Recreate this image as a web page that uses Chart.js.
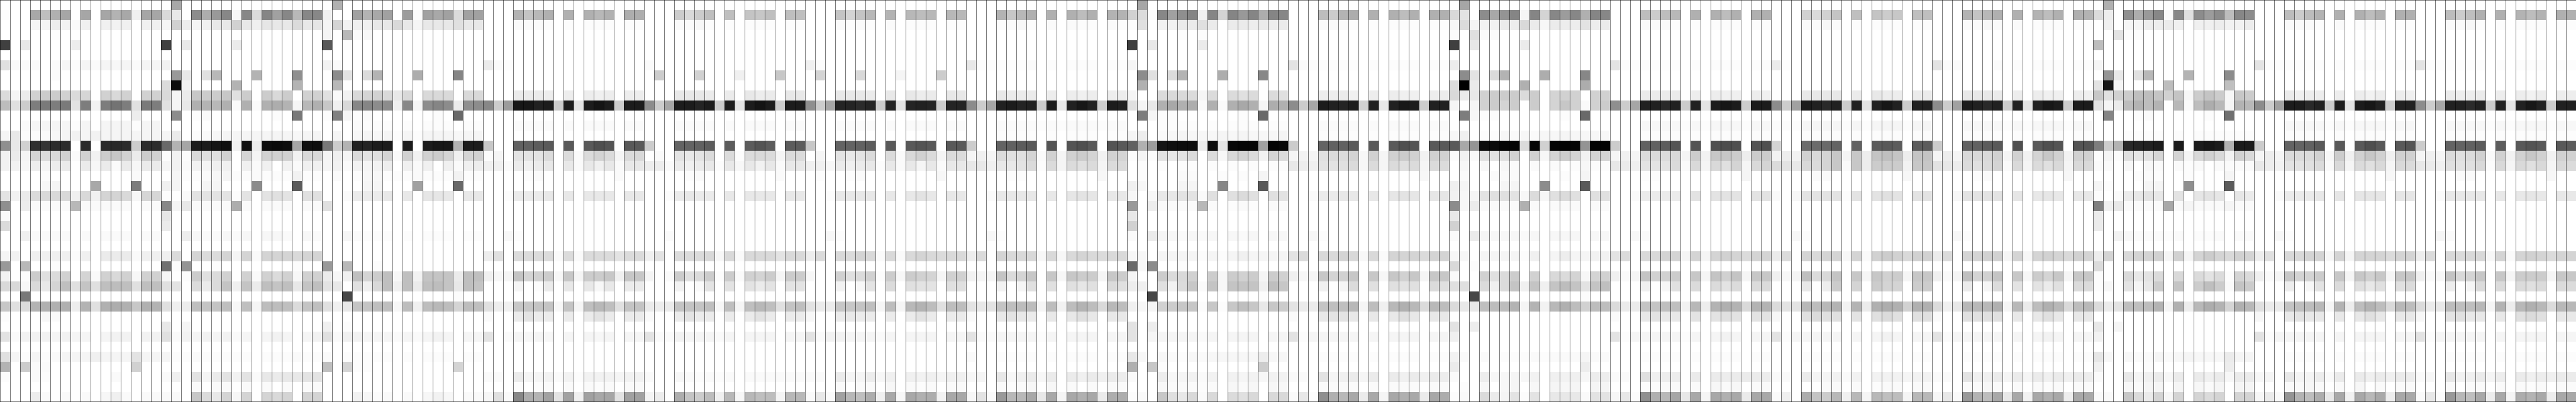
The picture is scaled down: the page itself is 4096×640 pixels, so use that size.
<!DOCTYPE html>
<html lang="en">
<head>
<meta charset="UTF-8">
<title>Grey heatmap</title>
<style>
    html, body { margin: 0; padding: 0; background: #fff; overflow: hidden; }
    canvas { display: block; }
</style>
</head>
<body>
<canvas id="chart" width="4096" height="640"></canvas>
<script src="https://cdn.jsdelivr.net/npm/chart.js"></script>
<script>
// darkness of each cell in percent (0 white, 100 black), one array per row from the top
// groups: first 3 columns, then blocks of 16 columns
const row00 = [0,0,0, 0,0,0,0,0,0,0,0,0,0,0,0,0,0,34,0, 0,0,0,0,0,0,0,0,0,0,0,0,0,0,31,0, 0,0,0,0,0,0,0,0,0,0,0,0,0,0,0,0, 0,0,0,0,0,0,0,0,0,0,0,0,0,0,0,0, 0,0,0,0,0,0,0,0,0,0,0,0,0,0,0,0, 0,0,0,0,0,0,0,0,0,0,0,0,0,0,0,0, 0,0,0,0,0,0,0,0,0,0,0,0,0,0,35,0, 0,0,0,0,0,0,0,0,0,0,0,0,0,0,0,0, 0,0,0,0,0,0,0,0,0,0,0,0,0,0,35,0, 0,0,0,0,0,0,0,0,0,0,0,0,0,0,0,0, 0,0,0,0,0,0,0,0,0,0,0,0,0,0,0,0, 0,0,0,0,0,0,0,0,0,0,0,0,0,0,0,0, 0,0,0,0,0,0,0,0,0,0,0,0,0,0,31,0, 0,0,0,0,0,0,0,0,0,0,0,0,0,0,0,0, 0,0,0,0,0,0,0,0,0,0,0,0,0,0,0,0, 0,0,0,0,0,0,0,0,0,0,0,0,0];
const row01 = [1,0,0, 34,25,31,35,0,35,0,35,30,34,6,35,35,15,9,0, 45,32,40,47,3,47,14,48,37,47,28,47,47,6,0,0, 37,30,34,37,0,39,1,37,34,37,14,37,37,0,0,0, 30,23,28,31,0,31,0,31,28,31,1,32,32,0,0,0, 20,15,20,25,0,25,0,23,22,25,0,25,25,0,0,0, 23,17,23,28,0,30,0,28,26,28,0,28,28,0,0,0, 30,22,28,31,0,31,0,31,26,31,0,30,30,18,14,1, 47,37,44,48,6,48,17,48,40,48,32,48,47,0,0,0, 26,20,30,32,0,31,0,31,26,31,0,31,31,15,11,0, 45,34,42,48,4,48,17,47,39,47,31,48,47,0,0,0, 26,20,26,28,0,31,0,31,26,31,0,31,31,0,0,0, 18,14,18,23,0,25,0,23,20,22,0,25,25,0,0,0, 30,23,28,31,0,31,0,30,26,31,0,31,30,14,7,0, 44,32,40,47,2,47,12,45,39,45,26,47,45,0,0,0, 26,20,26,30,0,31,0,31,26,31,0,31,31,0,0,0, 26,20,25,31,0,31,0,30,26,30,0,31,31];
const row02 = [0,0,0, 4,4,7,5,2,6,0,6,5,6,0,6,6,4,18,7, 4,6,9,9,18,9,6,10,9,9,14,9,10,4,17,5, 6,6,9,9,15,9,4,9,9,9,12,9,9,0,0,0, 2,2,2,1,0,1,0,1,1,1,0,1,1,0,0,0, 2,2,3,1,0,1,0,1,1,1,0,1,1,0,0,0, 2,1,2,1,0,2,0,1,1,1,0,1,1,0,0,0, 1,2,3,1,0,2,0,2,1,1,0,2,1,1,12,0, 5,5,8,8,12,8,0,8,8,7,8,7,8,0,0,0, 2,2,2,1,0,1,0,1,1,1,0,1,1,3,14,4, 5,5,8,7,15,8,3,8,7,7,11,7,8,0,0,0, 2,2,2,1,0,1,0,1,1,1,0,1,1,0,0,0, 2,2,3,2,0,1,0,1,1,1,0,1,1,0,0,0, 2,2,3,2,0,2,0,1,1,1,0,1,1,0,6,0, 4,4,7,7,8,6,0,6,6,7,5,5,7,0,0,0, 2,2,2,1,0,2,0,1,1,1,0,1,1,0,0,0, 2,2,3,1,0,1,0,1,1,1,0,1,1];
const row03 = [0,0,0, 0,0,1,0,0,0,0,0,0,0,0,0,0,0,0,0, 0,0,0,0,0,0,0,0,0,0,0,0,0,4,0,28, 2,3,0,0,0,0,0,0,0,0,0,0,0,0,0,0, 0,0,0,0,0,0,0,0,0,0,0,0,0,0,0,0, 0,0,0,0,0,0,0,0,0,0,0,0,0,0,0,0, 0,0,0,0,0,0,0,0,0,0,0,0,0,0,0,0, 0,0,0,0,0,0,0,0,0,0,0,0,0,0,0,0, 0,0,1,0,1,0,0,0,0,0,0,0,0,0,0,0, 0,0,0,0,0,0,0,0,0,0,0,0,0,1,0,12, 2,2,0,0,0,0,0,0,0,0,0,0,0,0,0,0, 0,0,0,0,0,0,0,0,0,0,0,0,0,0,0,0, 0,0,0,0,0,0,0,0,0,0,0,0,0,0,0,0, 0,0,0,0,0,0,0,0,0,0,0,0,0,0,0,11, 1,1,0,0,0,0,0,0,0,0,0,0,0,0,0,0, 0,0,0,0,0,0,0,0,0,0,0,0,0,0,0,0, 0,0,0,0,0,0,0,0,0,0,0,0,0];
const row04 = [75,0,9, 0,0,0,0,7,0,0,0,0,0,0,0,0,75,0,9, 0,0,0,0,8,0,0,0,0,0,0,0,0,65,0,1, 0,0,0,0,0,0,0,0,0,0,0,0,0,0,0,0, 0,0,0,0,0,0,0,0,0,0,0,0,0,0,0,0, 0,0,0,0,0,0,0,0,0,0,0,0,0,0,0,0, 0,0,0,0,0,0,0,0,0,0,0,0,0,0,0,0, 0,0,0,0,0,0,0,0,0,0,0,0,0,75,0,9, 0,0,0,0,8,0,0,0,0,0,0,0,0,0,0,0, 0,0,0,0,0,0,0,0,0,0,0,0,0,75,0,9, 0,0,0,0,8,0,0,0,0,0,0,0,0,0,0,0, 0,0,0,0,0,0,0,0,0,0,0,0,0,0,0,0, 0,0,0,0,0,0,0,0,0,0,0,0,0,0,0,0, 0,0,0,0,0,0,0,0,0,0,0,0,0,26,0,0, 0,0,0,0,0,0,0,0,0,0,0,0,0,0,0,0, 0,0,0,0,0,0,0,0,0,0,0,0,0,0,0,0, 0,0,0,0,0,0,0,0,0,0,0,0,0];
const row05 = [0,0,0, 0,0,0,0,0,0,0,0,0,0,0,0,0,0,0,0, 0,0,0,0,0,0,0,0,0,0,0,0,0,0,0,0, 0,0,0,0,0,0,0,0,0,0,0,0,0,0,0,0, 0,0,0,0,0,0,0,0,0,0,0,0,0,0,0,0, 0,0,0,0,0,0,0,0,0,0,0,0,0,0,0,0, 0,0,0,0,0,0,0,0,0,0,0,0,0,0,0,0, 0,0,0,0,0,0,0,0,0,0,0,0,0,0,0,0, 0,0,0,0,0,0,0,0,0,0,0,0,0,0,0,0, 0,0,0,0,0,0,0,0,0,0,0,0,0,0,0,0, 0,0,0,0,0,0,0,0,0,0,0,0,0,0,0,0, 0,0,0,0,0,0,0,0,0,0,0,0,0,0,0,0, 0,0,0,0,0,0,0,0,0,0,0,0,0,0,0,0, 0,0,0,0,0,0,0,0,0,0,0,0,0,0,0,0, 0,0,0,0,0,0,0,0,0,0,0,0,0,0,0,0, 0,0,0,0,0,0,0,0,0,0,0,0,0,0,0,0, 0,0,0,0,0,0,0,0,0,0,0,0,0];
const row06 = [12,2,2, 2,0,2,4,1,4,2,4,3,4,2,4,4,5,0,0, 0,0,0,0,0,0,0,0,0,0,0,0,0,5,2,0, 0,0,0,0,0,0,0,0,0,0,0,0,0,8,2,1, 0,0,0,0,0,0,0,0,0,0,0,0,0,2,0,0, 0,0,0,0,0,0,0,0,0,0,0,0,0,6,1,0, 0,0,0,0,0,0,0,0,0,0,0,0,0,9,1,1, 1,1,1,2,0,1,0,1,1,1,0,1,1,4,0,0, 0,0,0,0,0,0,0,0,0,0,0,0,0,11,2,1, 1,1,1,1,0,1,0,1,1,1,0,1,1,7,0,0, 0,0,0,0,0,0,0,0,0,0,0,0,0,11,1,1, 1,1,1,1,0,1,0,1,1,1,0,1,1,8,1,0, 0,0,0,0,0,0,0,0,0,0,0,0,0,11,2,2, 0,0,0,2,0,1,0,1,1,1,0,1,1,4,0,0, 0,0,0,0,0,0,0,0,0,0,0,0,0,11,1,1, 1,1,1,1,0,1,0,1,1,1,0,1,1,11,1,1, 1,1,1,1,0,1,0,1,1,1,0,1,1];
const row07 = [0,0,0, 0,0,2,0,0,0,0,0,0,0,0,0,0,0,40,9, 0,12,28,0,0,0,30,0,0,0,44,0,0,0,45,11, 0,14,30,0,0,0,32,0,0,0,48,0,0,0,0,0, 0,0,0,0,0,0,0,0,0,0,0,0,0,0,20,0, 0,0,18,0,0,0,6,0,0,0,22,0,0,0,17,0, 0,0,15,0,0,0,4,0,0,0,20,0,0,0,0,0, 0,0,0,0,0,0,0,0,0,0,0,0,0,0,45,12, 0,14,30,0,0,0,32,0,0,0,47,0,0,0,0,0, 0,0,0,0,0,0,0,0,0,0,0,0,0,0,45,11, 0,14,30,0,0,0,32,0,0,0,47,0,0,0,0,0, 0,0,0,0,0,0,0,0,0,0,0,0,0,0,0,0, 0,0,0,0,0,0,0,0,0,0,0,0,0,0,0,0, 0,0,0,0,0,0,0,0,0,0,0,0,0,0,42,9, 0,12,28,0,0,0,30,0,0,0,45,0,0,0,0,0, 0,0,0,0,0,0,0,0,0,0,0,0,0,0,0,0, 0,0,0,0,0,0,0,0,0,0,0,0,0];
const row08 = [0,0,0, 0,0,0,0,0,0,0,0,0,0,0,0,0,14,95,6, 0,0,0,0,30,0,0,0,0,0,30,0,0,0,28,0, 0,0,0,0,0,0,0,0,0,0,0,0,0,0,0,0, 0,0,0,0,0,0,0,0,0,0,0,0,0,0,0,0, 0,0,0,0,0,0,0,0,0,0,0,0,0,0,0,0, 0,0,0,0,0,0,0,0,0,0,0,0,0,0,0,0, 0,0,0,0,0,0,0,0,0,0,0,0,0,0,31,0, 0,0,0,0,0,0,0,0,0,0,0,0,0,0,0,0, 0,0,0,0,0,0,0,0,0,0,0,0,0,14,100,8, 0,0,0,0,31,0,0,0,0,0,32,0,0,0,0,0, 0,0,0,0,0,0,0,0,0,0,0,0,0,0,0,0, 0,0,0,0,0,0,0,0,0,0,0,0,0,0,0,0, 0,0,0,0,0,0,0,0,0,0,0,0,0,11,91,4, 0,0,0,0,26,0,0,0,0,0,25,0,0,0,0,0, 0,0,0,0,0,0,0,0,0,0,0,0,0,0,0,0, 0,0,0,0,0,0,0,0,0,0,0,0,0];
const row09 = [14,4,8, 18,20,20,18,14,16,0,18,15,18,0,18,18,15,4,8, 22,20,20,22,12,20,0,20,15,20,0,18,18,12,2,5, 15,17,18,15,9,15,0,15,15,15,0,15,15,0,0,0, 8,8,8,7,0,7,0,7,6,7,0,7,7,0,0,0, 9,9,9,8,0,8,0,9,7,8,0,9,9,0,0,0, 9,9,9,8,0,9,0,9,7,8,0,9,9,0,0,0, 9,8,8,8,0,7,0,7,6,7,0,7,7,4,0,0, 14,15,15,14,4,14,0,14,12,14,0,14,12,0,0,0, 7,7,8,6,0,7,0,7,6,6,0,7,7,15,8,9, 18,20,20,20,14,20,0,17,18,18,0,18,18,0,0,0, 8,8,8,8,0,7,0,7,6,6,0,7,6,0,0,0, 9,9,9,9,0,8,0,9,7,7,0,8,8,0,0,0, 9,9,9,8,0,7,0,7,6,6,0,7,6,22,12,18, 20,25,26,23,18,23,3,20,23,20,3,22,20,0,0,0, 8,6,7,7,0,7,0,7,5,7,0,7,6,0,0,0, 8,7,7,8,0,7,0,7,5,7,0,7,7];
const row10 = [26,12,20, 51,52,51,52,11,51,5,51,55,51,12,52,51,12,4,9, 31,30,28,31,2,31,2,31,32,30,4,28,31,22,6,15, 47,48,45,45,6,47,4,45,48,45,8,44,45,47,20,39, 91,91,87,89,20,89,11,89,92,89,20,89,89,45,20,35, 89,89,86,89,20,89,11,89,92,89,20,89,89,44,20,35, 86,86,83,86,20,86,11,86,87,86,20,86,86,45,20,35, 87,89,86,87,20,89,9,87,91,87,20,89,87,12,4,9, 31,34,31,32,2,31,2,31,34,31,4,32,31,45,20,35, 89,87,86,89,18,87,9,87,91,89,20,87,87,4,0,4, 18,20,17,20,0,20,0,17,22,18,2,18,20,44,20,35, 87,87,84,87,20,87,11,89,91,89,20,89,89,45,20,37, 89,87,84,87,20,87,11,87,91,87,20,87,87,45,20,37, 89,87,84,87,20,87,11,87,91,89,20,89,89,11,4,8, 26,30,26,30,0,28,2,26,32,28,4,30,28,45,20,37, 89,89,84,87,20,89,11,89,91,87,20,87,87,45,20,35, 87,87,83,87,20,87,11,87,91,87,20,87,87];
const row11 = [0,0,0, 0,0,0,0,0,0,0,0,0,0,7,0,0,0,45,0, 1,2,0,0,0,0,0,0,1,0,53,0,0,1,50,4, 1,2,0,0,0,0,0,0,1,0,59,0,0,0,0,0, 0,0,0,0,0,0,0,0,0,0,0,0,0,0,0,0, 0,0,0,0,0,0,0,0,0,0,0,0,0,0,0,0, 0,0,0,0,0,0,0,0,0,0,0,0,0,0,0,0, 0,0,0,0,0,0,0,0,0,0,0,0,0,0,51,4, 1,1,0,0,0,0,0,0,1,0,59,0,0,0,0,0, 0,0,0,0,0,0,0,0,0,0,0,0,0,0,51,3, 1,1,0,0,0,0,0,0,1,0,59,0,0,0,0,0, 0,0,0,0,0,0,0,0,0,0,0,0,0,0,0,0, 0,0,0,0,0,0,0,0,0,0,0,0,0,0,0,0, 0,0,0,0,0,0,0,0,0,0,0,0,0,0,48,0, 0,1,2,0,0,0,0,0,1,0,56,0,0,0,0,0, 0,0,0,0,0,0,0,0,0,0,0,0,0,0,0,0, 0,0,0,0,0,0,0,0,0,0,0,0,0];
const row12 = [0,0,2, 4,4,4,4,1,4,0,4,4,4,1,4,4,0,0,0, 0,0,0,0,0,0,0,0,0,0,0,0,0,0,0,0, 2,1,1,1,0,1,0,1,1,1,0,1,1,0,0,0, 2,2,2,2,0,2,0,2,2,2,0,2,2,0,0,0, 2,2,2,2,0,2,0,2,2,2,0,2,2,0,0,0, 2,2,2,2,0,2,0,2,2,2,0,2,2,0,0,0, 2,2,2,2,1,2,1,2,2,2,1,2,2,0,0,0, 1,1,1,1,0,1,0,1,1,1,0,1,1,0,0,0, 2,2,2,2,0,2,0,2,2,2,0,2,2,0,0,0, 0,0,0,0,0,0,0,0,0,0,0,0,0,0,0,0, 3,3,3,3,1,3,1,3,3,3,1,3,3,1,1,1, 4,4,4,4,1,4,1,4,4,4,1,4,4,0,0,0, 3,3,3,3,1,3,1,3,3,3,1,3,3,0,0,0, 0,0,0,0,0,0,0,0,0,0,0,0,0,0,0,0, 3,3,3,3,1,3,1,3,3,3,1,3,3,0,0,0, 3,3,3,3,1,3,1,3,3,3,1,3,3];
const row13 = [4,9,1, 1,2,3,4,5,4,5,4,4,4,4,4,4,4,8,0, 1,2,3,4,4,4,4,4,4,4,3,4,4,0,4,0, 3,4,3,4,1,4,1,4,4,4,3,4,4,0,0,0, 0,0,0,0,0,0,0,0,0,0,0,0,0,0,0,0, 0,0,0,0,0,0,0,0,0,0,0,0,0,0,0,0, 0,0,0,0,0,0,0,0,0,0,0,0,0,0,0,0, 1,1,1,1,0,1,0,1,1,1,0,1,1,4,7,0, 2,3,4,3,3,3,4,3,4,3,3,3,4,0,0,0, 1,1,1,1,0,1,0,1,1,1,0,1,1,3,6,0, 1,1,3,2,3,2,3,3,4,3,3,3,3,0,0,0, 1,1,1,1,0,1,0,1,1,1,0,1,1,0,0,0, 1,1,1,1,0,1,0,1,1,1,0,1,1,0,0,0, 1,1,1,1,0,1,0,1,1,1,0,1,1,0,0,0, 1,1,1,1,0,1,0,1,1,1,1,1,1,0,0,0, 1,1,1,1,0,1,0,1,1,1,0,1,1,0,0,0, 1,1,1,1,0,1,0,1,1,1,0,1,1];
const row14 = [44,9,18, 81,80,83,83,0,83,0,83,84,83,20,83,83,59,30,35, 89,89,92,94,6,94,8,95,96,95,35,94,95,53,20,30, 87,86,89,89,0,89,0,89,91,91,30,89,89,22,0,0, 62,62,64,65,0,65,0,65,69,67,0,65,65,20,0,0, 61,61,62,64,0,64,0,64,67,64,0,64,64,22,0,0, 61,61,62,64,0,65,0,65,67,65,0,65,65,20,0,0, 61,62,64,65,0,67,0,67,69,65,0,67,65,62,31,39, 92,94,95,95,8,96,11,97,98,98,37,98,97,20,0,0, 61,62,62,65,0,65,0,65,69,67,0,65,65,65,34,42, 95,96,98,98,14,98,18,98,99,98,42,99,99,20,0,0, 62,62,64,67,0,67,0,69,70,69,0,67,69,17,0,0, 58,58,59,61,0,62,0,64,65,64,0,64,64,20,0,0, 62,62,64,65,0,69,0,65,69,67,0,67,67,51,20,30, 84,86,87,89,0,89,0,89,91,89,30,89,89,20,0,0, 61,61,62,65,0,65,0,65,69,65,0,65,67,20,0,0, 61,61,62,64,0,64,0,65,67,65,0,65,64];
const row15 = [5,8,4, 17,14,15,18,2,18,5,20,22,18,8,20,18,1,5,1, 15,12,12,18,0,17,4,18,18,18,5,15,15,4,6,4, 14,11,12,17,2,18,5,18,20,17,6,17,18,1,4,0, 11,11,11,14,0,14,2,14,17,14,4,14,15,0,2,0, 11,9,11,14,0,14,1,14,15,14,4,14,14,0,4,0, 11,9,11,14,0,14,2,15,18,14,4,14,14,4,6,4, 14,12,12,17,2,18,4,18,20,17,5,18,17,1,4,1, 11,9,11,14,0,14,3,15,17,14,5,17,14,4,5,4, 12,14,14,17,3,18,4,18,20,18,5,18,18,1,5,2, 12,11,12,18,0,18,3,17,20,17,5,17,17,4,6,4, 14,14,14,15,4,20,5,22,22,20,7,20,20,5,7,5, 18,15,17,22,4,22,7,23,25,23,7,23,23,4,7,4, 15,15,15,18,4,18,5,17,22,18,5,18,18,1,4,1, 12,10,11,16,0,17,4,15,18,15,5,18,15,4,7,4, 14,14,14,18,3,20,6,18,22,18,6,18,18,4,6,4, 14,12,14,18,2,18,5,18,22,18,5,18,18];
const row16 = [5,5,3, 7,4,7,8,0,8,3,8,2,8,3,8,8,4,5,2, 5,4,6,6,0,6,2,6,0,5,2,6,6,4,5,2, 5,4,5,7,0,6,2,6,0,6,2,6,7,6,6,2, 8,6,8,9,0,9,2,9,6,9,2,9,9,7,7,2, 8,6,8,9,1,9,3,9,5,9,2,9,9,6,6,3, 8,6,8,9,1,9,2,9,4,9,2,9,9,9,9,6, 9,9,11,14,1,14,4,14,12,14,4,14,14,0,1,0, 1,0,1,1,0,1,0,1,0,1,0,1,1,9,7,6, 11,11,12,14,3,14,4,14,12,14,4,14,14,0,3,0, 3,0,3,2,0,2,0,2,0,1,3,1,1,9,8,6, 11,11,11,14,2,15,4,15,12,17,4,15,17,14,11,9, 15,14,17,22,2,22,7,20,20,20,5,22,22,11,9,7, 14,12,14,17,2,15,4,14,12,15,4,15,15,2,2,0, 3,0,3,2,0,2,1,2,0,2,2,2,2,9,7,5, 11,11,12,14,2,15,4,14,12,15,4,15,14,9,8,6, 12,11,12,15,1,15,4,15,12,15,4,15,14];
const row17 = [0,0,0, 0,1,0,0,0,0,0,0,0,0,2,0,0,0,4,1, 1,2,3,4,1,1,2,1,1,1,5,1,1,0,2,0, 1,3,3,1,1,1,2,1,1,1,5,1,1,0,0,0, 0,1,2,0,0,0,0,0,0,0,2,0,0,0,0,0, 0,1,2,0,0,0,0,0,0,0,2,0,0,0,1,0, 0,1,2,0,0,0,0,0,0,0,3,0,0,0,0,0, 0,1,1,0,0,0,0,0,0,0,3,0,0,0,1,0, 0,0,2,2,0,0,1,0,1,0,4,0,0,0,0,0, 0,0,0,0,0,0,0,0,0,0,3,0,0,0,2,0, 0,2,2,2,0,0,0,0,1,0,4,0,0,0,0,0, 1,1,0,0,0,0,0,0,0,0,4,0,0,0,0,0, 0,2,2,0,0,0,0,0,0,0,3,0,0,0,0,0, 0,1,2,0,0,0,0,0,0,0,3,0,0,0,0,0, 0,1,2,1,0,0,1,0,0,0,4,0,0,0,0,0, 0,0,0,0,0,0,0,0,0,0,3,0,0,0,0,0, 0,2,2,0,0,0,0,0,0,0,3,0,0];
const row18 = [0,0,0, 0,3,4,0,0,0,34,0,0,0,51,0,0,6,4,0, 0,4,4,0,0,0,45,0,0,0,64,0,0,0,0,0, 0,4,4,0,0,0,37,0,0,0,59,0,0,0,0,0, 0,0,0,0,0,0,0,0,0,0,0,0,0,0,0,0, 0,0,0,0,0,0,0,0,0,0,0,0,0,0,0,0, 0,0,0,0,0,0,0,0,0,0,0,0,0,0,0,0, 0,0,0,0,0,0,0,0,0,0,0,0,0,6,3,0, 0,0,4,4,0,0,47,0,0,0,65,0,0,0,0,0, 0,0,0,0,0,0,0,0,0,0,0,0,0,6,4,0, 0,0,4,4,0,0,45,0,0,0,65,0,0,0,0,0, 0,0,0,0,0,0,0,0,0,0,0,0,0,0,0,0, 0,0,0,0,0,0,0,0,0,0,0,0,0,0,0,0, 0,0,0,0,0,0,0,0,0,0,0,0,0,4,1,0, 0,0,4,4,0,0,44,0,0,0,64,0,0,0,0,0, 0,0,0,0,0,0,0,0,0,0,0,0,0,0,0,0, 0,0,0,0,0,0,0,0,0,0,0,0,0];
const row19 = [11,5,8, 14,15,15,15,6,15,6,17,17,15,3,16,16,1,0,2, 11,11,11,11,1,11,0,11,12,11,0,12,12,0,0,2, 8,8,8,9,0,9,0,10,10,9,0,9,9,0,0,1, 8,8,8,9,0,9,0,9,9,9,0,9,9,0,0,1, 8,9,8,8,0,9,0,9,9,9,0,9,9,0,0,1, 9,9,9,9,0,9,0,9,11,9,0,9,9,0,0,2, 9,9,9,9,0,9,0,10,11,10,0,9,9,3,0,3, 9,9,11,11,2,12,0,12,14,12,0,12,11,0,0,2, 8,8,9,9,0,9,0,10,11,10,0,10,10,5,3,4, 11,12,12,11,3,14,3,12,14,12,0,12,12,0,0,2, 8,8,8,8,0,11,0,11,11,11,0,11,11,2,0,3, 11,11,11,11,1,11,0,11,12,11,0,11,11,0,0,3, 11,11,11,11,0,10,0,9,10,9,0,9,9,1,0,2, 8,9,11,9,0,11,0,10,11,10,0,10,8,0,0,2, 8,8,8,9,0,10,0,10,10,10,0,10,10,0,0,2, 9,9,9,9,0,9,0,9,10,9,0,9,9];
const row20 = [44,0,7, 2,2,2,2,28,2,2,2,2,2,0,2,2,47,4,9, 2,2,2,2,32,2,0,2,2,2,0,2,2,12,0,0, 0,0,0,0,0,0,0,0,0,0,0,0,0,0,0,0, 0,0,0,0,0,0,0,0,0,0,0,0,0,0,0,0, 0,0,0,0,0,0,0,0,0,0,0,0,0,0,0,0, 0,0,0,0,0,0,0,0,0,0,0,0,0,0,0,0, 0,0,0,0,0,0,0,0,0,0,0,0,0,40,0,7, 2,2,2,2,28,2,0,1,2,1,0,2,2,0,0,0, 0,0,0,0,0,0,0,0,0,0,0,0,0,45,3,8, 2,2,2,2,31,2,0,2,2,2,0,2,2,0,0,0, 0,0,0,0,0,0,0,0,0,0,0,0,0,0,0,0, 0,0,0,0,0,0,0,0,0,0,0,0,0,0,0,0, 0,0,0,0,0,0,0,0,0,0,0,0,0,50,6,9, 2,2,2,2,34,2,4,2,2,2,4,2,2,0,0,0, 0,0,0,0,0,0,0,0,0,0,0,0,0,0,0,0, 0,0,0,0,0,0,0,0,0,0,0,0,0];
const row21 = [2,0,0, 0,0,0,0,0,0,0,0,0,0,0,0,0,10,0,0, 0,0,0,0,0,0,0,0,0,0,0,0,0,0,0,0, 0,0,0,0,0,0,0,0,0,0,0,0,0,0,0,0, 0,0,0,0,0,0,0,0,0,0,0,0,0,0,0,0, 0,0,0,0,0,0,0,0,0,0,0,0,0,0,0,0, 0,0,0,0,0,0,0,0,0,0,0,0,0,0,0,0, 0,0,0,0,0,0,0,0,0,0,0,0,0,9,0,0, 0,0,0,0,0,0,0,0,0,0,0,0,0,0,0,0, 0,0,0,0,0,0,0,0,0,0,0,0,0,9,0,0, 0,0,0,0,0,0,0,0,0,0,0,0,0,0,0,0, 0,0,0,0,0,0,0,0,0,0,0,0,0,0,0,0, 0,0,0,0,0,0,0,0,0,0,0,0,0,0,0,0, 0,0,0,0,0,0,0,0,0,0,0,0,0,8,0,0, 0,0,0,0,0,0,0,0,0,0,0,0,0,0,0,0, 0,0,0,0,0,0,0,0,0,0,0,0,0,0,0,0, 0,0,0,0,0,0,0,0,0,0,0,0,0];
const row22 = [14,0,0, 0,0,0,0,0,0,0,0,0,0,0,0,0,8,0,0, 0,0,0,0,0,0,0,0,0,0,0,0,0,0,0,0, 0,0,0,0,0,0,0,0,0,0,0,0,0,0,0,0, 0,0,0,0,0,0,0,0,0,0,0,0,0,0,0,0, 0,0,0,0,0,0,0,0,0,0,0,0,0,0,0,0, 0,0,0,0,0,0,0,0,0,0,0,0,0,0,0,0, 0,0,0,0,0,0,0,0,0,0,0,0,0,18,0,0, 0,0,0,0,0,0,0,0,0,0,0,0,0,0,0,0, 0,0,0,0,0,0,0,0,0,0,0,0,0,18,0,0, 0,0,0,0,0,0,0,0,0,0,0,0,0,0,0,0, 0,0,0,0,0,0,0,0,0,0,0,0,0,0,0,0, 0,0,0,0,0,0,0,0,0,0,0,0,0,0,0,0, 0,0,0,0,0,0,0,0,0,0,0,0,0,8,0,0, 0,0,0,0,0,0,0,0,0,0,0,0,0,0,0,0, 0,0,0,0,0,0,0,0,0,0,0,0,0,0,0,0, 0,0,0,0,0,0,0,0,0,0,0,0,0];
const row23 = [0,0,6, 2,2,2,2,0,2,0,2,2,2,0,2,2,0,0,7, 3,2,2,3,2,3,0,3,3,2,0,3,2,0,0,4, 2,1,1,1,0,1,0,1,1,1,0,1,1,0,0,3, 1,0,0,0,0,0,0,0,0,0,0,0,0,0,0,2, 0,0,0,0,0,0,0,0,0,0,0,0,0,0,0,3, 1,0,0,0,0,0,0,0,0,0,0,0,0,0,0,3, 1,0,0,0,0,0,0,0,0,0,0,0,0,2,0,8, 4,3,2,3,2,3,0,3,2,3,0,3,3,0,0,3, 1,0,0,0,0,0,0,0,0,0,0,0,0,2,0,8, 4,3,3,3,2,3,0,3,3,3,0,3,3,0,0,3, 2,0,0,0,0,0,0,0,0,0,0,0,0,0,0,3, 1,0,0,0,0,0,0,0,0,0,0,0,0,0,0,3, 1,0,0,0,0,0,0,0,0,0,0,0,0,0,0,5, 3,2,2,2,1,2,0,1,1,2,0,2,2,0,0,3, 1,0,0,0,0,0,0,0,0,0,0,0,0,0,0,4, 2,0,0,0,0,0,0,0,0,0,0,0,0];
const row24 = [0,0,0, 0,0,0,0,0,0,0,0,0,0,0,0,0,0,0,0, 0,0,0,0,0,0,0,0,0,0,0,0,0,0,0,0, 0,0,0,0,0,0,0,0,0,0,0,0,0,0,0,0, 0,0,0,0,0,0,0,0,0,0,0,0,0,0,0,0, 0,0,0,0,0,0,0,0,0,0,0,0,0,0,0,0, 0,0,0,0,0,0,0,0,0,0,0,0,0,0,0,0, 0,0,0,0,0,0,0,0,0,0,0,0,0,0,0,0, 0,0,0,0,0,0,0,0,0,0,0,0,0,0,0,0, 0,0,0,0,0,0,0,0,0,0,0,0,0,0,0,0, 0,0,0,0,0,0,0,0,0,0,0,0,0,0,0,0, 0,0,0,0,0,0,0,0,0,0,0,0,0,0,0,0, 0,0,0,0,0,0,0,0,0,0,0,0,0,0,0,0, 0,0,0,0,0,0,0,0,0,0,0,0,0,0,0,0, 0,0,0,0,0,0,0,0,0,0,0,0,0,0,0,0, 0,0,0,0,0,0,0,0,0,0,0,0,0,0,0,0, 0,0,0,0,0,0,0,0,0,0,0,0,0];
const row25 = [4,5,0, 6,6,6,6,1,6,0,8,8,8,2,6,6,6,14,0, 17,14,14,17,4,17,2,17,17,17,15,17,17,0,0,0, 0,0,0,0,0,0,0,0,0,0,0,0,0,7,12,0, 14,14,14,14,2,14,2,14,14,14,11,14,14,6,11,0, 14,14,14,15,3,15,2,15,15,15,11,15,15,7,14,0, 15,14,17,15,2,15,2,15,17,15,14,15,15,7,14,0, 17,15,15,15,3,15,3,15,17,15,14,15,15,3,3,0, 4,4,4,4,1,4,1,4,6,4,4,4,4,11,14,0, 15,15,17,15,3,15,2,17,17,17,14,17,17,3,3,0, 4,4,4,4,1,6,0,4,7,4,4,5,5,11,14,0, 15,15,17,17,4,17,4,17,18,17,14,17,17,8,14,0, 17,15,17,17,3,17,2,18,20,18,15,18,18,8,14,0, 17,17,18,18,4,17,3,17,18,17,15,18,17,7,17,0, 15,17,17,18,4,18,4,17,20,17,15,18,17,7,12,0, 15,15,17,17,3,17,4,17,17,17,14,17,17,7,14,0, 15,14,15,15,3,17,2,17,18,17,14,17,17];
const row26 = [40,0,28, 0,0,1,0,0,0,0,0,0,0,0,0,0,56,1,42, 0,0,1,0,0,0,0,0,0,0,1,0,0,40,0,28, 0,0,1,0,0,0,0,0,0,0,0,0,0,0,0,0, 0,0,0,0,0,0,0,0,0,0,0,0,0,0,0,0, 0,0,0,0,0,0,0,0,0,0,0,0,0,0,0,0, 0,0,0,0,0,0,0,0,0,0,0,0,0,0,0,0, 0,0,0,0,0,0,0,0,0,0,0,0,0,59,3,45, 0,0,1,0,0,0,0,0,0,0,0,0,0,0,0,0, 0,0,0,0,0,0,0,0,0,0,0,0,0,15,0,1, 0,0,0,0,0,0,0,0,0,0,0,0,0,0,0,0, 0,0,0,0,0,0,0,0,0,0,0,0,0,0,0,0, 0,0,0,0,0,0,0,0,0,0,0,0,0,0,0,0, 0,0,0,0,0,0,0,0,0,0,0,0,0,14,0,0, 0,0,0,0,0,0,0,0,0,0,0,0,0,0,0,0, 0,0,0,0,0,0,0,0,0,0,0,0,0,0,0,0, 0,0,0,0,0,0,0,0,0,0,0,0,0];
const row27 = [5,0,1, 20,12,14,18,0,17,2,18,15,18,3,18,18,4,0,1, 20,12,14,18,0,18,2,18,14,18,3,18,18,8,3,6, 25,17,20,25,3,25,5,23,23,23,8,25,25,6,3,4, 23,17,18,20,3,22,4,20,20,22,6,22,22,4,0,2, 20,12,14,20,1,20,2,18,17,20,4,20,20,3,0,0, 18,12,14,18,1,20,3,20,18,17,4,18,18,5,4,4, 23,14,17,22,0,22,3,22,20,20,4,22,20,4,0,0, 20,14,15,18,0,20,3,20,18,20,4,20,18,6,3,4, 22,17,18,22,0,22,3,22,18,22,4,22,22,2,0,0, 18,12,14,20,0,18,0,15,14,17,3,17,18,6,2,4, 23,18,18,20,0,22,4,23,18,23,4,22,22,6,3,4, 25,14,15,23,0,22,4,22,18,20,4,22,22,6,2,4, 25,17,18,23,0,22,3,20,17,22,4,22,22,1,0,0, 15,9,11,14,0,15,0,14,11,14,1,17,14,6,2,4, 22,17,17,20,0,22,4,22,18,22,4,22,22,6,2,3, 23,15,17,22,0,22,4,20,20,20,4,22,22];
const row28 = [15,15,3, 15,9,17,25,12,23,12,25,26,25,12,25,25,12,11,0, 14,8,14,23,6,23,8,25,23,25,9,23,25,11,9,0, 12,6,15,25,6,25,8,25,26,23,9,25,23,0,0,0, 4,0,1,8,0,9,0,9,3,9,0,8,8,0,0,0, 5,0,2,11,0,11,0,11,8,11,0,11,11,0,0,0, 5,0,3,11,0,14,0,12,11,11,0,12,12,0,0,0, 5,0,4,12,0,12,0,12,10,12,0,14,12,7,6,0, 12,5,14,22,2,23,3,23,23,23,6,25,22,0,0,0, 6,0,4,14,0,12,0,12,11,12,0,14,12,12,12,0, 14,6,14,23,6,23,6,23,26,23,11,23,25,0,0,0, 6,0,3,12,0,14,0,14,11,14,0,14,14,0,0,0, 9,0,7,20,0,17,0,20,17,17,0,20,20,0,0,0, 8,0,4,14,0,11,0,11,8,12,0,14,14,1,3,0, 11,4,9,20,0,23,0,20,25,20,2,23,20,0,0,0, 7,0,3,11,0,14,0,12,9,12,0,12,14,0,0,0, 7,0,4,14,0,14,0,14,12,14,0,14,14];
const row29 = [0,0,53, 0,0,0,0,0,0,0,0,0,0,0,0,0,0,0,0, 0,0,0,0,0,0,0,0,0,0,0,0,0,0,0,72, 0,0,0,0,0,0,0,0,0,0,1,0,0,0,0,0, 0,0,0,0,0,0,0,0,0,0,0,0,0,0,0,0, 0,0,0,0,0,0,0,0,0,0,0,0,0,0,0,0, 0,0,0,0,0,0,0,0,0,0,0,0,0,0,0,0, 0,0,0,0,0,0,0,0,0,0,0,0,0,0,0,72, 0,0,0,0,0,0,0,0,0,0,1,0,0,0,0,0, 0,0,0,0,0,0,0,0,0,0,0,0,0,0,0,72, 0,0,0,0,0,0,0,0,0,0,1,0,0,0,0,0, 0,0,0,0,0,0,0,0,0,0,0,0,0,0,0,0, 0,0,0,0,0,0,0,0,0,0,0,0,0,0,0,0, 0,0,0,0,0,0,0,0,0,0,0,0,0,0,0,0, 0,0,0,0,0,0,0,0,0,0,0,0,0,0,0,0, 0,0,0,0,0,0,0,0,0,0,0,0,0,0,0,0, 0,0,0,0,0,0,0,0,0,0,0,0,0];
const row30 = [22,12,14, 30,31,31,31,7,30,12,31,32,31,22,31,30,12,6,7, 25,23,23,25,3,25,4,26,26,25,14,23,25,12,6,9, 23,23,25,25,3,26,6,26,28,26,17,26,25,12,7,6, 22,22,23,23,3,23,4,25,28,25,12,23,23,8,7,8, 23,23,23,25,3,25,4,25,28,25,12,23,25,11,8,8, 22,22,23,25,4,26,4,28,30,26,12,26,26,11,9,11, 23,25,26,26,4,26,5,26,30,26,15,28,26,6,3,4, 18,20,22,22,1,22,1,22,25,22,9,22,20,11,8,8, 23,25,25,28,4,26,6,28,31,28,14,28,26,14,9,9, 25,26,26,30,4,30,5,28,31,26,18,26,26,14,8,8, 23,23,25,25,5,28,7,30,31,30,15,30,30,14,11,11, 28,26,28,30,5,30,8,31,32,31,18,31,31,14,6,9, 28,28,28,31,4,28,8,26,31,28,15,26,28,14,8,11, 25,25,26,30,4,31,7,28,32,30,17,31,28,12,8,8, 23,25,26,28,4,30,7,26,30,26,15,28,26,14,8,9, 26,25,25,28,4,30,7,28,31,28,14,28,28];
const row31 = [1,0,0, 0,3,2,0,0,0,0,0,0,0,0,0,0,0,0,0, 0,0,0,0,0,0,0,0,0,0,0,0,0,0,0,0, 0,0,0,0,0,0,0,0,0,0,0,0,0,2,0,0, 8,11,8,8,0,8,0,8,11,8,0,8,8,2,0,0, 8,11,8,8,0,8,0,8,11,8,0,8,8,3,0,0, 8,9,8,8,0,8,0,8,11,8,0,8,8,2,0,0, 9,11,9,8,0,9,0,9,12,9,0,9,9,0,0,0, 0,0,0,0,0,0,0,0,0,0,0,0,0,2,0,0, 9,11,11,9,0,9,0,9,12,9,0,9,9,0,0,0, 0,0,0,0,0,0,0,0,0,0,0,0,0,2,0,0, 9,11,9,9,0,11,0,11,12,11,0,11,11,3,0,0, 12,14,12,12,0,11,0,12,14,12,0,12,12,2,0,0, 12,12,12,12,0,9,0,9,12,9,0,9,9,0,0,0, 0,0,0,0,0,0,0,0,0,0,0,0,0,3,0,0, 9,11,9,9,0,9,0,9,12,9,0,9,9,3,0,0, 11,12,9,9,0,9,0,12,14,12,0,9,9];
const row32 = [0,0,0, 0,0,0,0,0,0,0,0,0,0,0,0,0,9,0,4, 0,0,0,0,0,0,0,0,0,0,0,0,0,6,0,1, 0,0,0,0,0,0,0,0,0,0,0,0,0,0,0,0, 0,0,0,0,0,0,0,0,0,0,0,0,0,0,0,0, 0,0,0,0,0,0,0,0,0,0,0,0,0,0,0,0, 0,0,0,0,0,0,0,0,0,0,0,0,0,0,0,0, 0,0,0,0,0,0,0,0,0,0,0,0,0,11,0,7, 0,0,0,0,0,0,0,0,0,0,0,0,0,0,0,0, 0,0,0,0,0,0,0,0,0,0,0,0,0,11,0,7, 0,0,0,0,0,0,0,0,0,0,0,0,0,0,0,0, 0,0,0,0,0,0,0,0,0,0,0,0,0,0,0,0, 0,0,0,0,0,0,0,0,0,0,0,0,0,0,0,0, 0,0,0,0,0,0,0,0,0,0,0,0,0,9,0,4, 0,0,0,0,0,0,0,0,0,0,0,0,0,0,0,0, 0,0,0,0,0,0,0,0,0,0,0,0,0,0,0,0, 0,0,0,0,0,0,0,0,0,0,0,0,0];
const row33 = [11,2,5, 5,5,4,5,4,4,0,4,5,5,0,5,5,12,2,5, 4,5,4,5,2,4,0,4,5,4,0,4,5,12,2,6, 5,4,4,4,2,4,2,4,5,4,0,4,4,11,0,2, 4,3,4,3,0,4,0,4,3,4,0,4,4,11,2,2, 5,4,4,4,2,4,0,4,4,4,0,4,4,11,2,5, 5,4,4,4,2,4,0,4,4,4,0,4,4,11,2,2, 4,4,4,4,1,4,0,4,4,4,0,4,4,11,0,4, 4,4,4,4,2,4,0,4,4,4,0,4,4,11,1,4, 4,4,4,4,0,4,0,4,4,4,0,4,4,6,0,0, 0,0,0,0,0,0,0,0,0,0,0,0,0,11,1,4, 4,4,4,4,1,4,0,4,5,4,0,4,4,11,1,4, 4,4,4,4,0,4,0,4,5,4,0,4,4,11,2,4, 4,4,4,4,0,4,0,4,5,4,0,4,4,5,0,0, 0,0,0,0,0,0,0,0,0,0,0,0,0,11,1,4, 4,4,4,4,0,4,0,4,4,4,0,4,4,11,1,4, 4,4,4,4,0,4,0,4,4,4,0,4,4];
const row34 = [0,0,0, 0,0,0,0,0,0,0,0,0,0,0,0,0,0,0,0, 0,0,0,0,0,0,0,0,0,0,0,0,0,0,0,0, 0,0,0,0,0,0,0,0,0,0,0,0,0,0,0,0, 0,0,0,0,0,0,0,0,0,0,0,0,0,0,0,0, 0,0,0,0,0,0,0,0,0,0,0,0,0,0,0,0, 0,0,0,0,0,0,0,0,0,0,0,0,0,0,0,0, 0,0,0,0,0,0,0,0,0,0,0,0,0,0,0,0, 0,0,0,0,0,0,0,0,0,0,0,0,0,0,0,0, 0,0,0,0,0,0,0,0,0,0,0,0,0,0,0,0, 0,0,0,0,0,0,0,0,0,0,0,0,0,0,0,0, 0,0,0,0,0,0,0,0,0,0,0,0,0,0,0,0, 0,0,0,0,0,0,0,0,0,0,0,0,0,0,0,0, 0,0,0,0,0,0,0,0,0,0,0,0,0,0,0,0, 0,0,0,0,0,0,0,0,0,0,0,0,0,0,0,0, 0,0,0,0,0,0,0,0,0,0,0,0,0,0,0,0, 0,0,0,0,0,0,0,0,0,0,0,0,0];
const row35 = [12,4,1, 4,1,2,4,4,4,6,4,4,4,11,4,4,4,1,1, 2,1,1,1,1,1,0,1,1,1,2,1,1,2,0,1, 1,1,1,1,0,1,0,1,1,1,0,1,1,0,0,0, 0,0,0,0,0,0,0,0,0,0,0,0,0,0,0,0, 0,0,0,0,0,0,0,0,0,0,0,0,0,0,0,0, 0,0,0,0,0,0,0,0,0,0,0,0,0,2,0,0, 1,1,1,1,0,1,0,1,1,1,0,1,1,9,3,0, 3,2,1,3,2,3,3,3,3,3,7,3,3,0,0,0, 1,1,1,1,0,1,0,1,1,1,0,1,1,5,2,0, 2,0,1,1,1,2,1,2,2,2,4,2,2,0,0,0, 1,1,1,1,0,1,0,1,1,1,0,1,1,0,0,0, 1,1,1,1,0,1,0,1,1,1,0,1,1,0,0,0, 1,1,1,1,0,1,0,1,1,1,0,1,1,10,3,0, 3,2,2,4,2,3,4,3,3,3,8,4,4,0,0,0, 1,1,1,1,0,1,0,1,1,1,0,1,1,0,0,0, 1,1,1,1,0,1,0,1,1,1,0,1,1];
const row36 = [30,0,20, 2,2,0,0,0,0,0,0,0,0,18,0,0,0,0,0, 0,0,0,0,0,0,0,0,0,0,0,0,0,25,0,17, 1,1,0,0,0,0,0,0,0,0,17,0,0,0,0,0, 0,0,0,0,0,0,0,0,0,0,0,0,0,0,0,0, 0,0,0,0,0,0,0,0,0,0,0,0,0,0,0,0, 0,0,0,0,0,0,0,0,0,0,0,0,0,0,0,0, 0,0,0,0,0,0,0,0,0,0,0,0,0,31,0,22, 1,0,0,0,0,0,0,0,0,0,20,0,0,0,0,0, 0,0,0,0,0,0,0,0,0,0,0,0,0,8,0,0, 0,0,0,0,0,0,0,0,0,0,7,0,0,0,0,0, 0,0,0,0,0,0,0,0,0,0,0,0,0,0,0,0, 0,0,0,0,0,0,0,0,0,0,0,0,0,0,0,0, 0,0,0,0,0,0,0,0,0,0,0,0,0,6,0,0, 0,0,1,0,0,0,0,0,0,0,7,0,0,0,0,0, 0,0,0,0,0,0,0,0,0,0,0,0,0,0,0,0, 0,0,0,0,0,0,0,0,0,0,0,0,0];
const row37 = [1,0,0, 2,1,0,0,0,0,0,0,2,0,0,0,0,2,6,0, 11,4,8,11,5,11,2,9,8,9,9,11,11,0,0,0, 0,0,0,0,0,0,0,0,0,0,0,0,0,2,2,0, 8,4,4,5,2,5,1,5,5,5,4,5,5,2,0,0, 3,2,1,2,1,2,0,2,2,2,2,2,2,2,2,0, 8,4,4,7,3,6,0,6,5,6,4,6,6,3,4,0, 9,3,6,8,3,8,0,8,6,8,6,8,7,2,0,0, 7,3,4,5,2,5,0,5,4,5,3,5,5,2,2,0, 11,4,6,8,4,8,0,8,6,8,6,8,7,2,0,0, 7,3,3,4,3,5,0,6,5,6,3,7,7,2,2,0, 12,6,7,7,0,8,0,8,7,8,8,8,7,2,2,0, 8,4,4,5,2,5,0,5,5,5,4,5,5,2,2,0, 11,6,6,8,4,8,4,8,6,8,6,8,7,2,0,0, 9,4,6,8,3,8,0,8,6,8,3,8,8,3,4,0, 9,4,4,7,2,8,0,8,6,8,6,8,7,2,3,0, 9,5,6,8,4,7,0,8,6,7,6,8,8];
const row38 = [0,0,0, 0,0,0,0,0,0,0,0,0,0,0,0,0,0,0,0, 2,0,2,2,0,2,0,2,0,2,0,2,2,0,0,0, 0,0,0,0,0,0,0,0,0,0,0,0,0,0,0,0, 1,0,1,2,0,2,0,2,1,2,0,2,2,0,0,0, 0,0,0,0,0,0,0,0,0,0,0,0,0,0,0,0, 2,0,2,2,0,3,0,2,1,2,0,2,2,0,0,0, 2,1,2,3,0,3,0,2,0,2,0,2,2,0,0,0, 3,2,2,2,1,2,0,3,2,3,0,3,3,0,0,0, 2,2,2,2,0,2,0,2,2,2,0,2,2,0,1,0, 3,0,3,4,0,3,0,4,3,4,0,4,4,0,0,0, 1,1,2,2,0,2,0,3,2,3,0,2,2,0,0,0, 0,0,2,2,0,2,0,1,2,2,0,2,2,0,0,0, 2,2,3,2,0,2,0,2,1,2,0,2,2,0,0,0, 3,2,4,4,0,4,0,3,2,4,0,4,4,0,0,0, 2,2,3,2,0,2,0,3,0,2,0,2,2,0,0,0, 2,0,2,2,0,2,0,2,1,2,0,2,2];
const row39 = [0,0,0, 7,2,0,2,0,2,0,3,6,2,0,2,2,2,2,0, 22,14,9,17,3,17,0,17,15,17,0,17,17,0,0,0, 5,3,1,2,0,2,0,3,5,3,0,2,2,3,12,2, 47,32,30,37,11,37,6,37,34,35,11,37,37,4,7,0, 32,23,20,26,6,28,3,28,25,26,4,28,28,2,9,2, 37,28,25,32,6,34,3,34,31,32,5,34,34,3,11,2, 40,28,28,34,9,34,4,34,31,34,8,32,32,1,2,0, 22,12,9,15,2,15,0,14,12,15,0,15,15,2,9,1, 44,31,28,34,8,34,4,34,31,34,8,34,32,1,2,0, 14,8,4,11,1,11,0,9,9,9,2,11,11,3,9,1, 44,31,28,35,9,34,4,34,31,34,8,34,34,2,6,0, 32,23,20,28,6,28,4,28,25,26,4,28,28,3,9,2, 40,30,26,34,9,34,5,34,31,34,7,34,34,2,2,0, 22,14,8,17,3,17,0,17,14,17,0,17,17,3,8,2, 42,30,26,32,9,34,5,34,28,34,7,34,34,2,9,1, 40,28,25,34,7,34,4,32,30,34,7,34,34];

const rows = [row00, row01, row02, row03, row04, row05, row06, row07, row08, row09,
              row10, row11, row12, row13, row14, row15, row16, row17, row18, row19,
              row20, row21, row22, row23, row24, row25, row26, row27, row28, row29,
              row30, row31, row32, row33, row34, row35, row36, row37, row38, row39];
const columns = row00.map((_, i) => i);

function shade(value) {
    const g = Math.round(255 * (1 - value / 100));
    return `rgb(${g},${g},${g})`;
}

const lineColor = 'rgba(0,0,0,0.53)';

// top and bottom rule of the grid
const frameLines = {
    id: 'frameLines',
    afterDraw(chart) {
        const { ctx, chartArea } = chart;
        ctx.save();
        ctx.fillStyle = lineColor;
        ctx.fillRect(chartArea.left, chartArea.top, chartArea.width, 1);
        ctx.fillRect(chartArea.left, chartArea.bottom - 1, chartArea.width, 1);
        ctx.restore();
    }
};

new Chart(document.getElementById('chart').getContext('2d'), {
    type: 'bar',
    data: {
        labels: columns,
        datasets: rows.map((row) => ({
            data: row.map(() => 1),
            backgroundColor: row.map(shade),
            borderWidth: 0,
            inflateAmount: 0,
            barPercentage: 1,
            categoryPercentage: 1
        }))
    },
    options: {
        responsive: false,
        animation: false,
        devicePixelRatio: 1,
        layout: { padding: 0 },
        plugins: { legend: { display: false }, tooltip: { enabled: false } },
        scales: {
            x: {
                stacked: true,
                grid: { color: lineColor, lineWidth: 1, offset: true, drawTicks: false, z: 1 },
                border: { display: false },
                ticks: { display: false, autoSkip: false }
            },
            y: {
                display: false,
                stacked: true,
                reverse: true,
                min: 0,
                max: rows.length
            }
        }
    },
    plugins: [frameLines]
});
</script>
</body>
</html>
